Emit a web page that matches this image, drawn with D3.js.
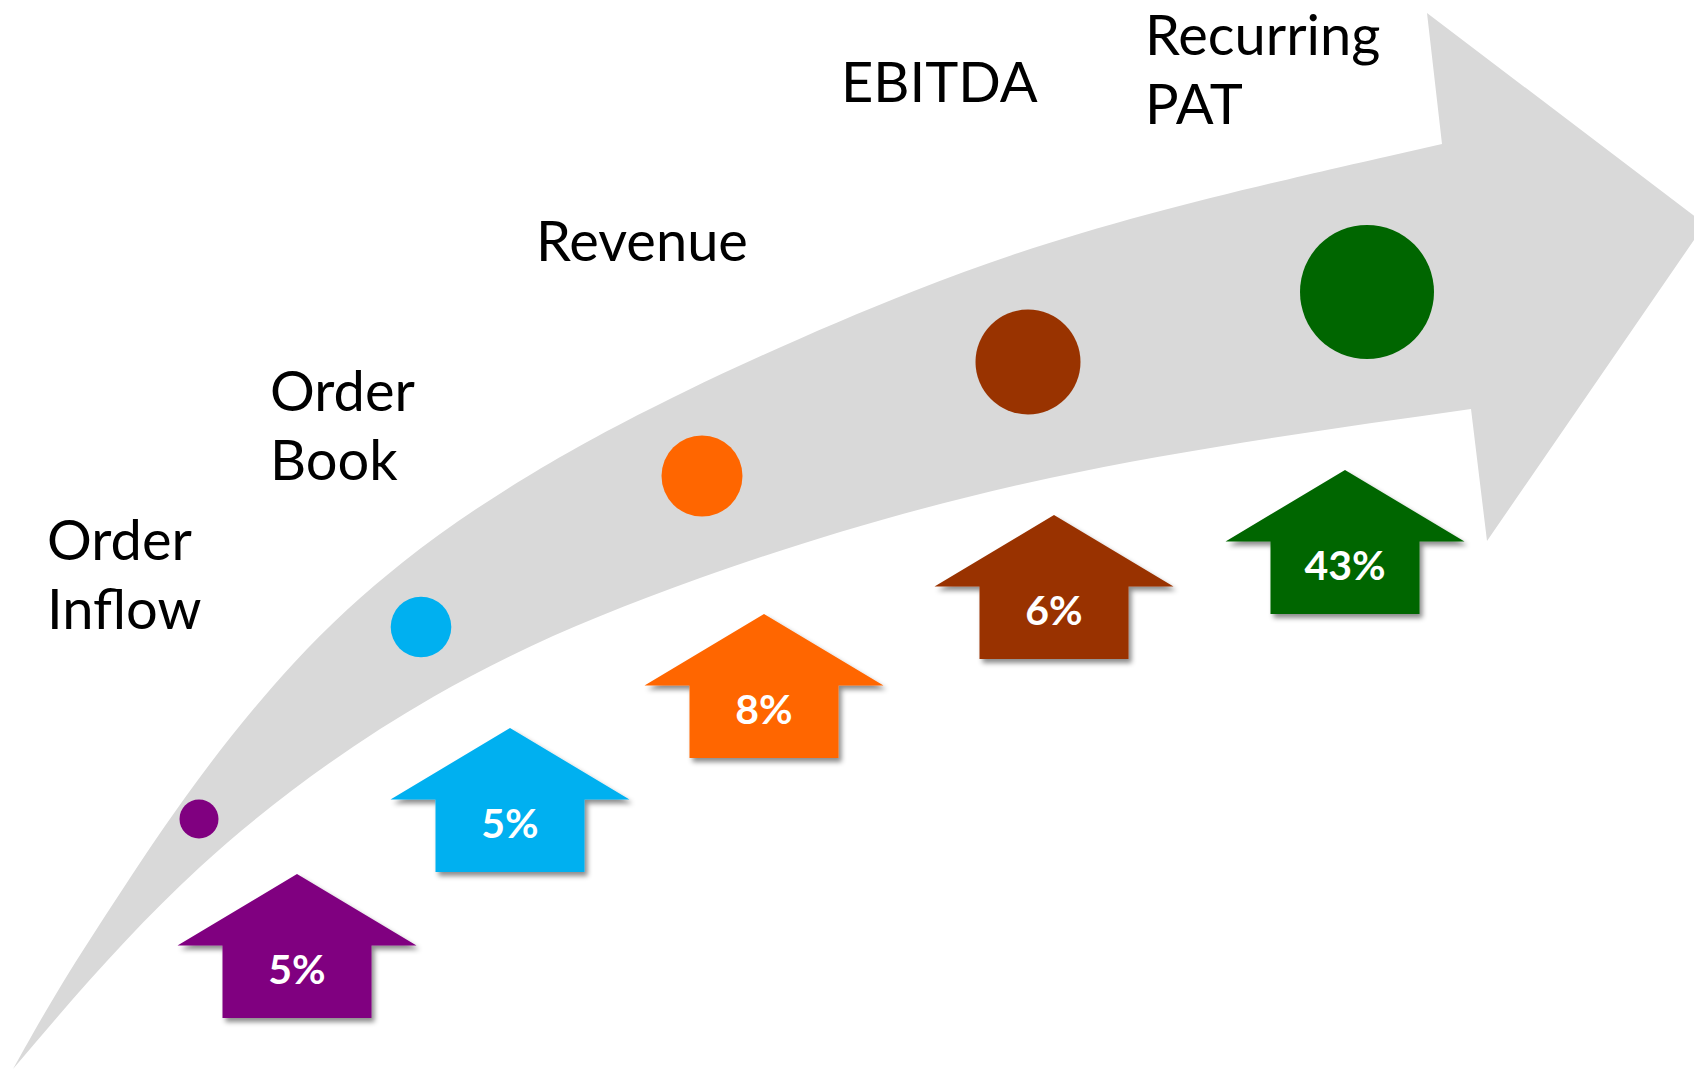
<!DOCTYPE html>
<html>
<head>
<meta charset="utf-8">
<title>Growth path</title>
<script src="https://cdn.jsdelivr.net/npm/d3@7"></script>
<style>
    body { margin: 0; background: #ffffff; }
    svg { display: block; }
</style>
</head>
<body>
<div id="chart-div"></div>
<script>
"use strict"

// stages and growth
const stageLines = [["Order", "Inflow"], ["Order", "Book"], ["Revenue"], ["EBITDA"], ["Recurring", "PAT"]];
const growthValues = [5, 5, 8, 6, 43];
const stageColors = ["#800080", "#00b0f0", "#ff6600", "#993300", "#006600"];

// layout, in a 1694 x 1070 frame
const dotX = [199, 421, 702, 1028, 1367];
const dotY = [819, 627, 476, 362, 292];
const dotRadius = [19.5, 30.3, 40.5, 52.5, 67];
const upArrowX = [297, 510, 764, 1054, 1345];
const upArrowTop = [874, 728, 614, 515, 470];
const labelX = [47, 270, 536, 841, 1145];
const labelBaseline = [560, 411, 261, 102, 55];

const outerEdgeX = [13, 60, 120, 190, 293, 400, 520, 667, 920, 1133, 1442];
const outerEdgeY = [1069, 985, 893, 787, 658, 560, 478, 397, 284, 214, 144];
const headX = [1427, 1705, 1487];
const headY = [13, 224, 541];
const innerEdgeX = [1471, 1050, 700, 433, 200, 13];
const innerEdgeY = [409, 478, 578, 697, 867, 1069];

const width = 1694;
const height = 1070;
const lineGap = 69;
const labelFontSize = 56;
const valueFontSize = 41;
const headHalfWidth = 119.5;
const bodyHalfWidth = 74.5;
const headHeight = 71.5;
const arrowHeight = 144;
const valueOffset = 110;
const bandColor = "#d9d9d9";

const x = d3.scaleLinear().domain([0, 1694]).range([0, width]);
const y = d3.scaleLinear().domain([0, 1070]).range([0, height]);

const svg = d3.select("#chart-div")
    .append("svg")
    .attr("width", width)
    .attr("height", height);


function CreateShadow()
{
    svg.append("defs")
        .append("filter")
            .attr("id", "drop")
            .attr("x", "-20%")
            .attr("y", "-20%")
            .attr("width", "140%")
            .attr("height", "140%")
        .append("feDropShadow")
            .attr("dx", 3)
            .attr("dy", 4)
            .attr("stdDeviation", 2.5)
            .attr("flood-color", "#000")
            .attr("flood-opacity", 0.45);
}


function DrawBand()
{
    // outer edge is smoothed (b-spline), inner edge passes through its points
    const outerLine = d3.line()
        .x(d => x(d[0]))
        .y(d => y(d[1]))
        .curve(d3.curveBasis);
    const innerLine = d3.line()
        .x(d => x(d[0]))
        .y(d => y(d[1]))
        .curve(d3.curveNatural);

    const outer = d3.zip(outerEdgeX, outerEdgeY);
    const inner = d3.zip(innerEdgeX, innerEdgeY);
    const head = d3.zip(headX, headY).map(p => `L${x(p[0])},${y(p[1])}`).join("");

    svg.append("path")
        .attr("d", outerLine(outer) + head + innerLine(inner).replace(/^M/, "L") + "Z")
        .attr("fill", bandColor);
}


function DrawDots()
{
    svg.selectAll(".dot")
    .data(growthValues)
    .enter()
    .append("circle")
        .attr("class", "dot")
        .attr("cx", (_, i) => x(dotX[i]))
        .attr("cy", (_, i) => y(dotY[i]))
        .attr("r", (_, i) => dotRadius[i])
        .attr("fill", (_, i) => stageColors[i]);
}


function UpArrowPath(cx, top)
{
    const p = d3.path();
    p.moveTo(cx, top);
    p.lineTo(cx + headHalfWidth, top + headHeight);
    p.lineTo(cx + bodyHalfWidth, top + headHeight);
    p.lineTo(cx + bodyHalfWidth, top + arrowHeight);
    p.lineTo(cx - bodyHalfWidth, top + arrowHeight);
    p.lineTo(cx - bodyHalfWidth, top + headHeight);
    p.lineTo(cx - headHalfWidth, top + headHeight);
    p.closePath();
    return p.toString();
}


function DrawUpArrows()
{
    svg.selectAll(".up-arrow")
    .data(growthValues)
    .enter()
    .append("path")
        .attr("class", "up-arrow")
        .attr("d", (_, i) => UpArrowPath(x(upArrowX[i]), y(upArrowTop[i])))
        .attr("fill", (_, i) => stageColors[i])
        .attr("filter", "url(#drop)");

    svg.selectAll(".up-value")
    .data(growthValues)
    .enter()
    .append("text")
        .attr("class", "up-value")
        .attr("x", (_, i) => x(upArrowX[i]))
        .attr("y", (_, i) => y(upArrowTop[i]) + valueOffset)
        .attr("text-anchor", "middle")
        .attr("font-family", "Lato, 'Open Sans', sans-serif")
        .attr("font-weight", "bold")
        .attr("font-size", valueFontSize)
        .attr("fill", "white")
        .text(d => d + "%");
}


function DrawLabels()
{
    const labels = svg.selectAll(".stage-label")
    .data(stageLines)
    .enter()
    .append("text")
        .attr("class", "stage-label")
        .attr("font-family", "Lato, 'Open Sans', sans-serif")
        .attr("font-size", labelFontSize)
        .attr("fill", "black");

    labels.selectAll("tspan")
    .data((d, i) => d.map(t => ({ text: t, stage: i })))
    .enter()
    .append("tspan")
        .attr("x", d => x(labelX[d.stage]))
        .attr("y", (d, j) => y(labelBaseline[d.stage]) + j * lineGap)
        .text(d => d.text);
}


CreateShadow();
DrawBand();
DrawDots();
DrawUpArrows();
DrawLabels();
</script>
</body>
</html>
